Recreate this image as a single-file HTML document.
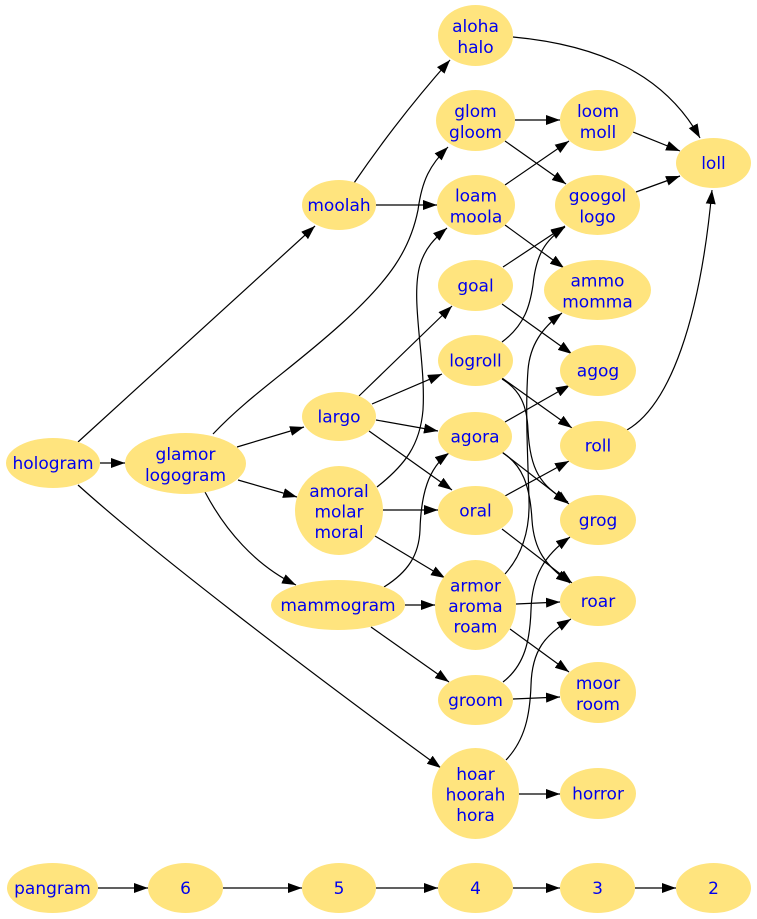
<!DOCTYPE html>
<html><head><meta charset="utf-8"><style>
html,body{margin:0;padding:0;background:#fff;}
svg{display:block;}
text{font-family:"DejaVu Sans","Liberation Sans",sans-serif;font-size:17px;fill:#0000ee;text-anchor:middle;}
ellipse{fill:#ffe47e;stroke:none;}
path.e{fill:none;stroke:#000;stroke-width:1.2;}
</style></head><body>
<svg width="757" height="919" viewBox="0 0 757 919" xmlns="http://www.w3.org/2000/svg">
<defs>
<marker id="a" markerUnits="userSpaceOnUse" markerWidth="15" markerHeight="11" refX="14" refY="5" orient="auto">
<path d="M0,0 L14,5 L0,10 z" fill="#000"/>
</marker>
</defs>
<g id="edges" marker-end="url(#a)">
<path class="e" marker-end="url(#a)" d="M100,463 L125,463"/>
<path class="e" marker-end="url(#a)" d="M78,442 L315,226"/>
<path class="e" marker-end="url(#a)" d="M78,485 C150,550 300,665 441,768"/>
<path class="e" marker-end="url(#a)" d="M237,447 L304,427"/>
<path class="e" marker-end="url(#a)" d="M238,480 L297,497"/>
<path class="e" marker-end="url(#a)" d="M205,492 C225,530 255,565 296,585"/>
<path class="e" marker-end="url(#a)" d="M213,434 C250,395 290,370 340,325 C390,280 410,250 418,210 C422,180 430,165 448,147"/>
<path class="e" marker-end="url(#a)" d="M354,183 C380,145 410,105 450,60"/>
<path class="e" marker-end="url(#a)" d="M376,205 L437,205"/>
<path class="e" marker-end="url(#a)" d="M359,396 L452,306"/>
<path class="e" marker-end="url(#a)" d="M372,404 L442,374"/>
<path class="e" marker-end="url(#a)" d="M376,420 L438,431"/>
<path class="e" marker-end="url(#a)" d="M369,431 L452,490"/>
<path class="e" marker-end="url(#a)" d="M377,487 C405,465 420,445 423,410 C426,360 410,300 420,265 C425,248 435,238 447,228"/>
<path class="e" marker-end="url(#a)" d="M383,510 L438,510"/>
<path class="e" marker-end="url(#a)" d="M375,536 L445,578"/>
<path class="e" marker-end="url(#a)" d="M384,587 C408,572 419,555 420,530 C421,495 428,468 449,453"/>
<path class="e" marker-end="url(#a)" d="M405,605 L435,605"/>
<path class="e" marker-end="url(#a)" d="M371,627 L449,682"/>
<path class="e" marker-end="url(#a)" d="M515,120 L560,120"/>
<path class="e" marker-end="url(#a)" d="M505,141 L566,184"/>
<path class="e" marker-end="url(#a)" d="M505,185 L569,141"/>
<path class="e" marker-end="url(#a)" d="M505,225 L564,268"/>
<path class="e" marker-end="url(#a)" d="M503,267 L565,226"/>
<path class="e" marker-end="url(#a)" d="M502,304 L572,354"/>
<path class="e" marker-end="url(#a)" d="M502,342 C525,325 530,305 533,285 C536,255 545,240 565,227"/>
<path class="e" marker-end="url(#a)" d="M502,378 L572,428"/>
<path class="e" marker-end="url(#a)" d="M502,379 C520,390 527,405 528,430 C530,470 540,485 568,502"/>
<path class="e" marker-end="url(#a)" d="M505,422 L570,385"/>
<path class="e" marker-end="url(#a)" d="M502,452 L569,504"/>
<path class="e" marker-end="url(#a)" d="M503,453 C522,465 530,485 532,520 C534,550 545,565 570,583"/>
<path class="e" marker-end="url(#a)" d="M505,496 L569,461"/>
<path class="e" marker-end="url(#a)" d="M502,529 L572,583"/>
<path class="e" marker-end="url(#a)" d="M505,574 C522,555 530,530 529,500 C528,460 525,410 528,370 C530,345 542,328 562,313"/>
<path class="e" marker-end="url(#a)" d="M516,604 L560,602"/>
<path class="e" marker-end="url(#a)" d="M510,629 L569,672"/>
<path class="e" marker-end="url(#a)" d="M503,682 C525,665 530,640 531,610 C532,575 545,555 570,537"/>
<path class="e" marker-end="url(#a)" d="M513,699 L560,697"/>
<path class="e" marker-end="url(#a)" d="M506,760 C525,740 530,715 531,685 C532,650 545,635 571,619"/>
<path class="e" marker-end="url(#a)" d="M519,794 L560,794"/>
<path class="e" marker-end="url(#a)" d="M633,132 L680,151"/>
<path class="e" marker-end="url(#a)" d="M636,192 L680,176"/>
<path class="e" marker-end="url(#a)" d="M513,37 C600,45 665,75 700,138"/>
<path class="e" marker-end="url(#a)" d="M627,430 C670,405 700,320 712,190"/>
<path class="e" marker-end="url(#a)" d="M98,888 L148,888"/>
<path class="e" marker-end="url(#a)" d="M223,888 L302,888"/>
<path class="e" marker-end="url(#a)" d="M376,888 L438,888"/>
<path class="e" marker-end="url(#a)" d="M513,888 L560,888"/>
<path class="e" marker-end="url(#a)" d="M635,888 L676,888"/>
</g>
<g id="nodes">
<ellipse cx="53" cy="463" rx="47" ry="25"/><text x="53" y="469">hologram</text>
<ellipse cx="185.5" cy="463.5" rx="60.5" ry="30.5"/><text x="185.5" y="460">glamor</text><text x="185.5" y="481">logogram</text>
<ellipse cx="339" cy="205" rx="37" ry="25"/><text x="339" y="211">moolah</text>
<ellipse cx="339" cy="416.5" rx="37" ry="24.5"/><text x="339" y="422.5">largo</text>
<ellipse cx="339" cy="510.5" rx="44" ry="44.5"/><text x="339" y="497">amoral</text><text x="339" y="517.5">molar</text><text x="339" y="538">moral</text>
<ellipse cx="338" cy="605" rx="67" ry="25"/><text x="338" y="611">mammogram</text>
<ellipse cx="475.5" cy="35.5" rx="37.5" ry="30.5"/><text x="475.5" y="32">aloha</text><text x="475.5" y="53">halo</text>
<ellipse cx="475.5" cy="120.5" rx="39.5" ry="30.5"/><text x="475.5" y="117">glom</text><text x="475.5" y="138">gloom</text>
<ellipse cx="476" cy="205" rx="39" ry="30"/><text x="476" y="201.5">loam</text><text x="476" y="222.5">moola</text>
<ellipse cx="475.5" cy="285.5" rx="37.5" ry="25.5"/><text x="475.5" y="291.5">goal</text>
<ellipse cx="475.5" cy="360.5" rx="37.5" ry="25.5"/><text x="475.5" y="366.5">logroll</text>
<ellipse cx="475" cy="436.5" rx="37" ry="24.5"/><text x="475" y="442.5">agora</text>
<ellipse cx="475.5" cy="510.5" rx="37.5" ry="24.5"/><text x="475.5" y="516.5">oral</text>
<ellipse cx="475.5" cy="605" rx="40.5" ry="45"/><text x="475.5" y="591.5">armor</text><text x="475.5" y="612">aroma</text><text x="475.5" y="632.5">roam</text>
<ellipse cx="475.5" cy="700" rx="37.5" ry="25"/><text x="475.5" y="706">groom</text>
<ellipse cx="475.5" cy="793.5" rx="43.5" ry="45.5"/><text x="475.5" y="780">hoar</text><text x="475.5" y="800.5">hoorah</text><text x="475.5" y="821">hora</text>
<ellipse cx="598" cy="120.5" rx="38" ry="30.5"/><text x="598" y="117">loom</text><text x="598" y="138">moll</text>
<ellipse cx="597.5" cy="205" rx="42.5" ry="30"/><text x="597.5" y="201.5">googol</text><text x="597.5" y="222.5">logo</text>
<ellipse cx="597.5" cy="290" rx="53.5" ry="30"/><text x="597.5" y="286.5">ammo</text><text x="597.5" y="307.5">momma</text>
<ellipse cx="598" cy="370.5" rx="38" ry="25.5"/><text x="598" y="376.5">agog</text>
<ellipse cx="598" cy="445.5" rx="38" ry="24.5"/><text x="598" y="451.5">roll</text>
<ellipse cx="598" cy="520" rx="38" ry="25"/><text x="598" y="526">grog</text>
<ellipse cx="598" cy="601" rx="38" ry="25"/><text x="598" y="607">roar</text>
<ellipse cx="598" cy="692.5" rx="38" ry="30.5"/><text x="598" y="689">moor</text><text x="598" y="710">room</text>
<ellipse cx="598" cy="793.5" rx="38" ry="25.5"/><text x="598" y="799.5">horror</text>
<ellipse cx="713.5" cy="163" rx="37.5" ry="25"/><text x="713.5" y="169">loll</text>
<ellipse cx="52.5" cy="888" rx="45.5" ry="25"/><text x="52.5" y="894">pangram</text>
<ellipse cx="185.5" cy="888" rx="37.5" ry="25"/><text x="185.5" y="894">6</text>
<ellipse cx="339" cy="888" rx="37" ry="25"/><text x="339" y="894">5</text>
<ellipse cx="475.5" cy="888" rx="37.5" ry="25"/><text x="475.5" y="894">4</text>
<ellipse cx="597.5" cy="888" rx="37.5" ry="25"/><text x="597.5" y="894">3</text>
<ellipse cx="713.5" cy="888" rx="37.5" ry="25"/><text x="713.5" y="894">2</text>
</g>
</svg>
</body></html>
